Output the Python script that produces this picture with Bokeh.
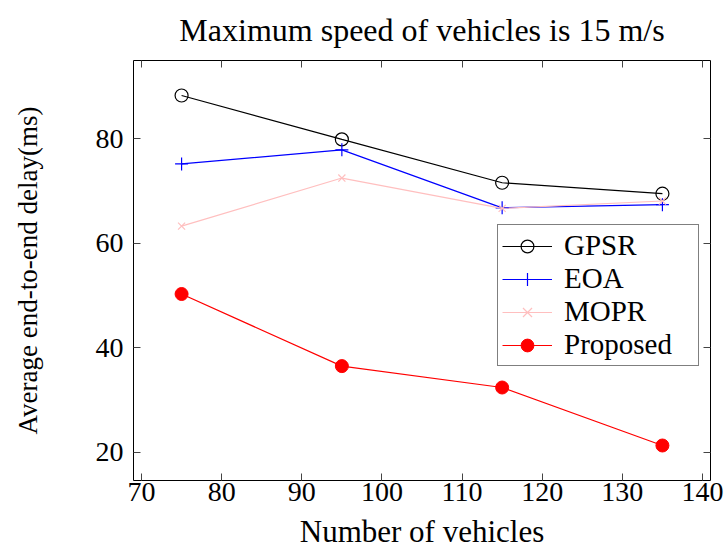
from bokeh.plotting import figure
from bokeh.models import Range1d, LinearAxis, FixedTicker, Legend, LegendItem
from bokeh.embed import file_html
from bokeh.resources import INLINE

vehicles = [75, 95, 115, 135]
gpsr = [88.3, 79.9, 71.6, 69.5]
eoa = [75.2, 77.9, 66.8, 67.4]
mopr = [63.3, 72.5, 66.7, 68.1]
proposed = [50.3, 36.5, 32.4, 21.3]
x_ticks = [70, 80, 90, 100, 110, 120, 130, 140]
y_ticks = [20, 40, 60, 80]
title_text = "Maximum speed of vehicles is 15 m/s"

FONT = "Liberation Serif"

p = figure(width=726, height=551, output_backend="svg", toolbar_location=None,
           x_range=Range1d(69, 141), y_range=Range1d(14.6, 95.0),
           min_border_left=133, min_border_right=16, min_border_top=60, min_border_bottom=71,
           title=title_text)
p.title.text_font = FONT
p.title.text_font_size = "32px"
p.title.text_font_style = "normal"
p.title.text_color = "black"
p.title.align = "center"
p.title.vertical_align = "top"
p.title.standoff = 22

p.xgrid.visible = False
p.ygrid.visible = False
p.outline_line_color = "black"
p.outline_line_width = 1
p.background_fill_color = "white"
p.border_fill_color = "white"

def style_axis(ax, labels=True, label_size="28px"):
    ax.axis_line_color = None
    ax.major_tick_in = 7
    ax.major_tick_out = 0
    ax.minor_tick_line_color = None
    ax.major_tick_line_color = "#444444"
    ax.major_tick_line_width = 1
    if labels:
        ax.major_label_text_font = FONT
        ax.major_label_text_font_size = "28px"
        ax.major_label_text_color = "black"
        ax.axis_label_text_font = FONT
        ax.axis_label_text_font_size = label_size
        ax.axis_label_text_font_style = "normal"
        ax.axis_label_text_color = "black"
    else:
        ax.major_label_text_font_size = "1px"
        ax.major_label_text_color = None
        ax.major_label_standoff = 0

p.xaxis.ticker = FixedTicker(ticks=x_ticks)
p.yaxis.ticker = FixedTicker(ticks=y_ticks)
p.xaxis.axis_label = "Number of vehicles"
p.yaxis.axis_label = "Average end-to-end delay(ms)"
style_axis(p.xaxis[0], label_size="31px")
style_axis(p.yaxis[0], label_size="27px")
p.xaxis.major_label_standoff = 2
p.xaxis.axis_label_standoff = 10
p.yaxis.major_label_standoff = 10
p.yaxis.axis_label_standoff = 50

# mirrored inward ticks on the top and right sides of the frame
top_ax = LinearAxis(ticker=FixedTicker(ticks=x_ticks))
style_axis(top_ax, labels=False)
p.add_layout(top_ax, "above")
right_ax = LinearAxis(ticker=FixedTicker(ticks=y_ticks))
style_axis(right_ax, labels=False)
p.add_layout(right_ax, "right")

lw = 1.2
l1 = p.line(vehicles, gpsr, line_color="black", line_width=lw)
s1 = p.scatter(vehicles, gpsr, marker="circle", size=13, fill_color="white", fill_alpha=0,
               line_color="black", line_width=lw)
l2 = p.line(vehicles, eoa, line_color="blue", line_width=lw)
s2 = p.scatter(vehicles, eoa, marker="cross", size=13, line_color="blue", line_width=lw)
l3 = p.line(vehicles, mopr, line_color="#ffbfbf", line_width=lw)
s3 = p.scatter(vehicles, mopr, marker="x", size=10, line_color="#ffbfbf", line_width=lw)
l4 = p.line(vehicles, proposed, line_color="red", line_width=lw)
s4 = p.scatter(vehicles, proposed, marker="circle", size=13, fill_color="red", line_color="red")

legend = Legend(items=[
    LegendItem(label="GPSR", renderers=[l1, s1]),
    LegendItem(label="EOA", renderers=[l2, s2]),
    LegendItem(label="MOPR", renderers=[l3, s3]),
    LegendItem(label="Proposed", renderers=[l4, s4]),
], location=(364, 114))
legend.label_text_font = FONT
legend.label_text_font_size = "29px"
legend.label_text_color = "black"
legend.glyph_width = 50
legend.glyph_height = 32
legend.label_height = 32
legend.label_width = 130
legend.label_standoff = 12
legend.spacing = 0
legend.padding = 4
legend.margin = 0
legend.border_line_color = "black"
legend.border_line_width = 1
legend.background_fill_alpha = 1
p.add_layout(legend, "center")

open("out.html", "w").write(file_html(p, INLINE))
